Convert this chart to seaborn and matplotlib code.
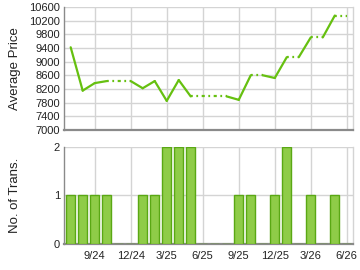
import numpy as np
import pandas as pd
import matplotlib
matplotlib.use("Agg")
import matplotlib.pyplot as plt
import seaborn as sns

months = ["7/24", "8/24", "9/24", "10/24", "11/24", "12/24", "1/25", "2/25",
          "3/25", "4/25", "5/25", "6/25", "7/25", "8/25", "9/25", "10/25",
          "11/25", "12/25", "1/26", "2/26", "3/26", "4/26", "5/26", "6/26"]
price = [9420, 8150, 8370, 8430, 8430, 8430, 8220, 8430,
         7850, 8460, 7980, 7980, 7980, 7980, 7880, 8600,
         8600, 8520, 9130, 9130, 9710, 9710, 10350, 10350]
trans = [1, 1, 1, 1, 0, 0, 1, 1, 2, 2, 2, 0, 0, 0, 1, 1, 0, 1, 2, 0, 1, 0, 1, 0]
tick_labels = ["9/24", "12/24", "3/25", "6/25", "9/25", "12/25", "3/26", "6/26"]
price_ticks = list(range(7000, 10601, 400))

sns.set_theme(style="white")
plt.rcParams['font.family'] = ['Liberation Sans', 'DejaVu Sans']

fig = plt.figure(figsize=(3.6, 2.7), dpi=100)
ax1 = fig.add_axes([0.178, 0.519, 0.802, 0.455])
ax2 = fig.add_axes([0.178, 0.096, 0.802, 0.36])

green = "#66c010"
grid_c = "#d4d4d4"
spine_c = "#8a8a8a"

# line segments: solid into months with transactions, dotted otherwise
rows = []
for i in range(1, len(months)):
    kind = "solid" if trans[i] > 0 else "dot"
    rows.append({"m": i - 1, "price": price[i - 1], "seg": i, "kind": kind})
    rows.append({"m": i, "price": price[i], "seg": i, "kind": kind})
ldf = pd.DataFrame(rows)
sns.lineplot(data=ldf, x="m", y="price", units="seg", estimator=None,
             style="kind", dashes={"solid": "", "dot": (0.8, 1.6)},
             color=green, lw=1.6, legend=False, ax=ax1)

tick_pos = [months.index(t) for t in tick_labels]

bdf = pd.DataFrame({"month": months, "trans": trans})
sns.barplot(data=bdf, x="month", y="trans", order=months, color="#8fcc48",
            width=0.72, saturation=1, edgecolor="#5aa814", linewidth=1.0, ax=ax2)
for p in ax2.patches:
    p.set_zorder(3)

for ax in (ax1, ax2):
    ax.set_xlim(-0.55, 23.5)
    ax.set_xticks(tick_pos)
    for p in tick_pos:
        ax.axvline(p, color=grid_c, lw=1, zorder=0)
    ax.spines["top"].set_visible(False)
    ax.spines["right"].set_color(grid_c)
    ax.spines["right"].set_linewidth(1)
    ax.spines["left"].set_color(spine_c)
    ax.spines["bottom"].set_color(spine_c)
    ax.spines["left"].set_linewidth(1)
    ax.spines["bottom"].set_linewidth(1.6)
    ax.tick_params(axis="both", labelsize=8, colors="#222222", length=0, pad=3)
    ax.set_xlabel("")

ax1.set_ylim(7000, 10600)
ax1.set_yticks(price_ticks)
for v in price_ticks[1:]:
    ax1.axhline(v, color=grid_c, lw=1, zorder=0)
ax1.set_xticklabels([])
ax1.set_ylabel("Average Price", fontsize=9.5, color="#222222")
ax1.yaxis.set_label_coords(-0.15, 0.5)

ax2.set_xticklabels(tick_labels)
ax2.set_ylim(0, 2)
ax2.set_yticks([0, 1, 2])
for v in [1, 2]:
    ax2.axhline(v, color=grid_c, lw=1, zorder=0)
ax2.set_ylabel("No. of Trans.", fontsize=9.5, color="#222222")
ax2.yaxis.set_label_coords(-0.15, 0.5)
ax2.tick_params(axis="x", length=3, color=spine_c, pad=2)

fig.savefig("out.png", dpi=100)
